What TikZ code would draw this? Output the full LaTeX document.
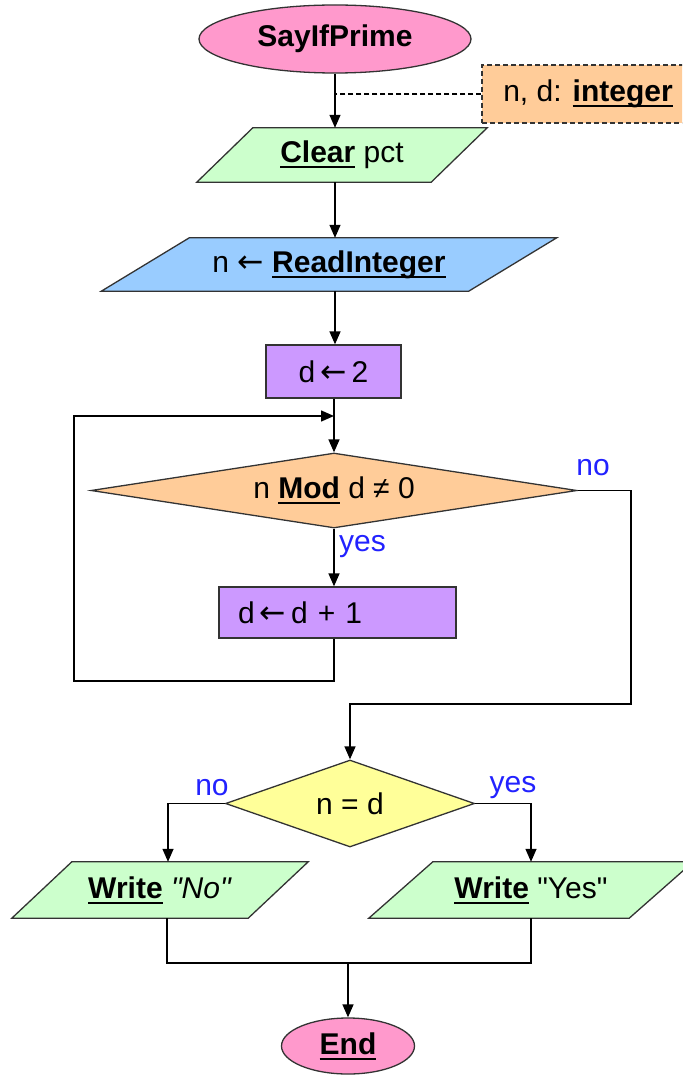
\documentclass[tikz,border=0pt]{standalone}
\usepackage{fontspec}
\setmainfont{Liberation Sans}
\newfontfamily\arrowfont{DejaVu Sans}[Scale=1.05]
\usetikzlibrary{shapes.geometric,arrows.meta,backgrounds}
\definecolor{pinkT}{HTML}{FF99CC}
\definecolor{noteC}{HTML}{FFCC99}
\definecolor{greenIO}{HTML}{CCFFCC}
\definecolor{blueIO}{HTML}{99CCFF}
\definecolor{purpleP}{HTML}{CC99FF}
\definecolor{orangeD}{HTML}{FFCC99}
\definecolor{yellowD}{HTML}{FFFF99}
\definecolor{lblue}{HTML}{2222FF}
\definecolor{edgeC}{HTML}{333333}
\newsavebox\kwbox
\newcommand\kw[1]{\sbox\kwbox{\bfseries #1}\rlap{\rule[-5.5pt]{\wd\kwbox}{1.8pt}}\usebox\kwbox}
\newcommand\getsarrow{{\arrowfont ←}}
\newcommand\pgram[3]{\draw[shapeline, fill=#3] ([xshift=#2]#1.north west) -- ([xshift=#2]#1.north east) -- ([xshift=-#2]#1.south east) -- ([xshift=-#2]#1.south west) -- cycle;}
\begin{document}
\begin{tikzpicture}[x=1pt,y=-1pt,
  every node/.style={font=\fontsize{30}{36}\selectfont},
  shapeline/.style={draw=edgeC, line width=1.3pt},
  term/.style={ellipse, shapeline, fill=pinkT, inner sep=0},
  iobox/.style={rectangle, inner sep=0},
  procbox/.style={rectangle, shapeline, fill=purpleP, inner sep=0},
  dec/.style={diamond, shapeline, inner sep=0},
  notebox/.style={rectangle, draw=edgeC, line width=1.2pt, dash pattern=on 5pt off 3pt, fill=noteC, inner sep=0},
  lbl/.style={text=lblue, inner sep=0},
  conn/.style={draw=black, line width=1.4pt},
  arr/.style={conn, -{Triangle[length=13pt,width=11pt]}},
  noteline/.style={draw=black, line width=1.1pt, dash pattern=on 5pt off 3pt}]
\useasboundingbox (0,0) rectangle (682,1075);
\clip (0,0) rectangle (682,1075);

% nodes
\node[term, minimum width=272, minimum height=68] (start) at (335,39) {\bfseries SayIfPrime};
\node[notebox, minimum width=208, minimum height=58] (note) at (586,94) {\hspace{4pt}n, d: \kw{integer}};
\node[iobox, minimum width=234, minimum height=54] (clear) at (342,155) {\kw{Clear} pct};
\node[iobox, minimum width=367, minimum height=53] (readint) at (329,264.5) {n \getsarrow\ \kw{ReadInteger}};
\node[procbox, minimum width=135, minimum height=53] (d2) at (333.5,371.5) {d\,\getsarrow\,2};
\node[dec, fill=orangeD, aspect=6.5, minimum width=486, minimum height=75] (cond1) at (334,490.5) {n \kw{Mod} d ≠ 0};
\node[procbox, minimum height=51, text width=199, inner xsep=19, align=left] (inc) at (337.5,612.5) {d\,\getsarrow\,d + 1};
\node[dec, fill=yellowD, aspect=2.9, minimum width=249, minimum height=87] (cond2) at (350,803.5) {n = d};
\node[iobox, minimum width=236, minimum height=56] (wno) at (160,890) {\kw{Write} \textit{\textquotedbl No\textquotedbl}};
\node[iobox, minimum width=260, minimum height=56] (wyes) at (531,890) {\kw{Write} \textquotedbl Yes\textquotedbl};
\node[term, minimum width=133, minimum height=56] (end) at (348,1046) {\kw{End}};

\node[lbl, anchor=west] (yes1) at (339,547) {yes};
\node[lbl] (no1) at (593,468) {no};
\node[lbl] (no2) at (212,788) {no};
\node[lbl] (yes2) at (513,788) {yes};

\coordinate (join) at (334,416);
\coordinate (loopL) at (74,681);
\coordinate (noR) at (631,704);
\coordinate (mrg) at (348,963);

% parallelogram bodies
\begin{scope}[on background layer]
\pgram{clear}{28}{greenIO}
\pgram{readint}{44}{blueIO}
\pgram{wno}{30}{greenIO}
\pgram{wyes}{32}{greenIO}
\end{scope}

% connectors
\draw[arr] (start.south) -- (start.south |- clear.north);
\draw[noteline] (note.west) -- (note.west -| start.south);
\draw[arr] (clear.south -| start.south) -- (start.south |- readint.north);
\draw[arr] (readint.south -| start.south) -- (start.south |- d2.north);
\draw[arr] (d2.south -| cond1.north) -- (cond1.north);
\draw[arr] (cond1.south) -- (cond1.south |- inc.north);
\draw[arr] (inc.south -| cond1.south) |- (loopL) |- (join);
\draw[arr] (cond1.east) -| (noR) -| (cond2.north);
\draw[arr] (cond2.west) -| ([xshift=8]wno.north);
\draw[arr] (cond2.east) -| (wyes.north);
\draw[conn] ([xshift=7]wno.south) |- (mrg) -| (wyes.south);
\draw[arr] (mrg) -- (end.north);
\end{tikzpicture}
\end{document}
